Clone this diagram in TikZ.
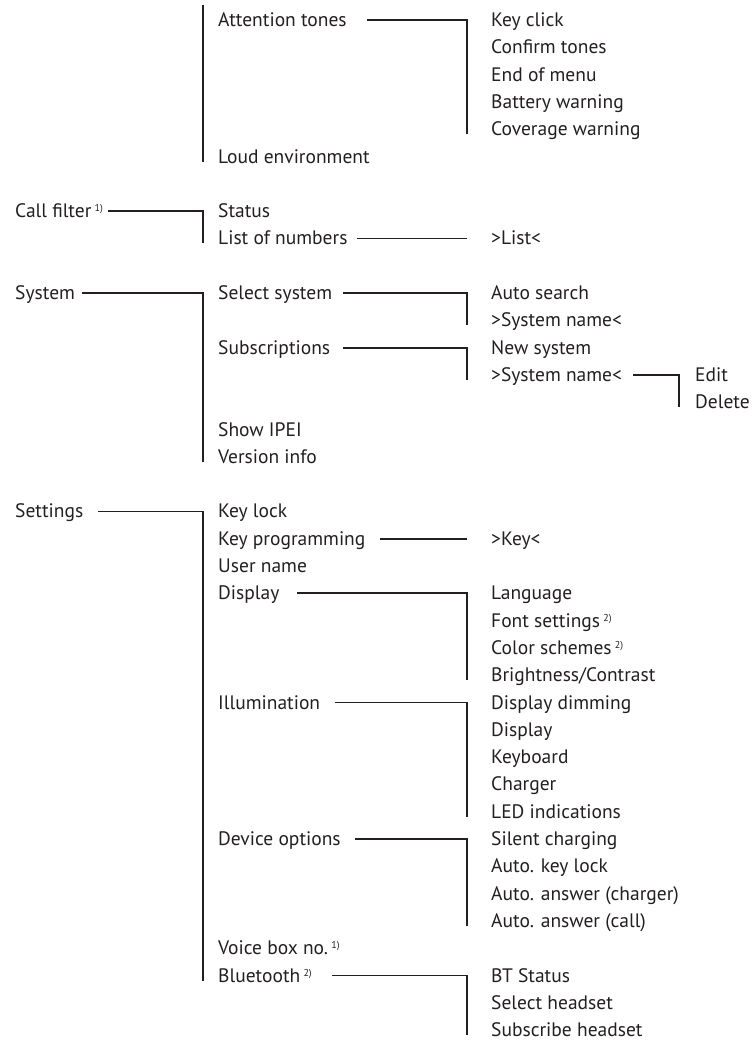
\documentclass[tikz,border=0pt]{standalone}
\usepackage{fontspec}
\setmainfont{PT Sans}
\definecolor{ink}{HTML}{231F20}
\newcommand{\noteref}[1]{\,\raisebox{6pt}{\fontsize{10}{10}\selectfont #1}}
\begin{document}
\begin{tikzpicture}[x=1pt,y=-1pt,
  lbl/.style={anchor=west,inner sep=0pt,text height=14pt,text depth=1pt,
    font=\fontsize{19.5}{22}\selectfont,text=ink},
  conn/.style={draw=ink,line width=1.8pt}]
\useasboundingbox (0,0) rectangle (754,1042);
\def\ry#1{20+27.3*#1}
% column 1
\node[lbl] (callf) at (15,{\ry{7}}) {Call filter\noteref{1)}};
\node[lbl] (system) at (15,{\ry{10}}) {System};
\node[lbl] (settings) at (15,{\ry{18}}) {Settings};
% column 2
\node[lbl] (attn) at (218,{\ry{0}}) {Attention tones};
\node[lbl] (loud) at (218,{\ry{5}}) {Loud environment};
\node[lbl] (status) at (218,{\ry{7}}) {Status};
\node[lbl] (listnum) at (218,{\ry{8}}) {List of numbers};
\node[lbl] (selsys) at (218,{\ry{10}}) {Select system};
\node[lbl] (subs) at (218,{\ry{12}}) {Subscriptions};
\node[lbl] (ipei) at (218,{\ry{15}}) {Show IPEI};
\node[lbl] (version) at (218,{\ry{16}}) {Version info};
\node[lbl] (keylock) at (218,{\ry{18}}) {Key lock};
\node[lbl] (keyprog) at (218,{\ry{19}}) {Key programming};
\node[lbl] (username) at (218,{\ry{20}}) {User name};
\node[lbl] (display) at (218,{\ry{21}}) {Display};
\node[lbl] (illum) at (218,{\ry{25}}) {Illumination};
\node[lbl] (devopt) at (218,{\ry{30}}) {Device options};
\node[lbl] (voicebox) at (218,{\ry{34}}) {Voice box no.\noteref{1)}};
\node[lbl] (bt) at (218,{\ry{35}}) {Bluetooth\noteref{2)}};
% column 3
\node[lbl] (keyclick) at (491,{\ry{0}}) {Key click};
\node[lbl] (confirm) at (491,{\ry{1}}) {Confirm tones};
\node[lbl] (endmenu) at (491,{\ry{2}}) {End of menu};
\node[lbl] (battery) at (491,{\ry{3}}) {Battery warning};
\node[lbl] (coverage) at (491,{\ry{4}}) {Coverage warning};
\node[lbl] (list) at (491,{\ry{8}}) {>List<};
\node[lbl] (autosearch) at (491,{\ry{10}}) {Auto search};
\node[lbl] (sysname1) at (491,{\ry{11}}) {>System name<};
\node[lbl] (newsys) at (491,{\ry{12}}) {New system};
\node[lbl] (sysname2) at (491,{\ry{13}}) {>System name<};
\node[lbl] (key) at (491,{\ry{19}}) {>Key<};
\node[lbl] (lang) at (491,{\ry{21}}) {Language};
\node[lbl] (fontset) at (491,{\ry{22}}) {Font settings\noteref{2)}};
\node[lbl] (color) at (491,{\ry{23}}) {Color schemes\noteref{2)}};
\node[lbl] (bright) at (491,{\ry{24}}) {Brightness/Contrast};
\node[lbl] (dimming) at (491,{\ry{25}}) {Display dimming};
\node[lbl] (disp2) at (491,{\ry{26}}) {Display};
\node[lbl] (keyboard) at (491,{\ry{27}}) {Keyboard};
\node[lbl] (charger) at (491,{\ry{28}}) {Charger};
\node[lbl] (led) at (491,{\ry{29}}) {LED indications};
\node[lbl] (silent) at (491,{\ry{30}}) {Silent charging};
\node[lbl] (autolock) at (491,{\ry{31}}) {Auto. key lock};
\node[lbl] (anscharger) at (491,{\ry{32}}) {Auto. answer (charger)};
\node[lbl] (anscall) at (491,{\ry{33}}) {Auto. answer (call)};
\node[lbl] (btstatus) at (491,{\ry{35}}) {BT Status};
\node[lbl] (selhead) at (491,{\ry{36}}) {Select headset};
\node[lbl] (subhead) at (491,{\ry{37}}) {Subscribe headset};
% column 4
\node[lbl] (edit) at (695,{\ry{13}}) {Edit};
\node[lbl] (delete) at (695,{\ry{14}}) {Delete};
% connectors
\coordinate (topc) at (203,5);
\draw[conn] (topc) -- ([xshift=-15pt,yshift=-5pt]loud.west);
\draw[conn] ([xshift=149pt]attn.west) -| ([xshift=-24pt,yshift=-5pt]coverage.west);
\draw[conn] ([xshift=93pt]callf.west) -| ([xshift=-15pt,yshift=-5pt]listnum.west);
\draw[conn] ([xshift=139pt]listnum.west) -- ([xshift=-24pt]list.west);
\draw[conn] ([xshift=67pt]system.west) -| ([xshift=-15pt,yshift=-5pt]version.west);
\draw[conn] ([xshift=125pt]selsys.west) -| ([xshift=-24pt,yshift=-5pt]sysname1.west);
\draw[conn] ([xshift=125pt]subs.west) -| ([xshift=-24pt,yshift=-5pt]sysname2.west);
\draw[conn] ([xshift=142pt]sysname2.west) -| ([xshift=-16pt,yshift=-5pt]delete.west);
\draw[conn] ([xshift=83pt]settings.west) -| ([xshift=-15pt,yshift=-5pt]bt.west);
\draw[conn] ([xshift=162pt]keyprog.west) -- ([xshift=-24pt]key.west);
\draw[conn] ([xshift=79pt]display.west) -| ([xshift=-24pt,yshift=-5pt]bright.west);
\draw[conn] ([xshift=117pt]illum.west) -| ([xshift=-24pt,yshift=-5pt]led.west);
\draw[conn] ([xshift=137pt]devopt.west) -| ([xshift=-24pt,yshift=-5pt]anscall.west);
\draw[conn] ([xshift=114pt]bt.west) -| ([xshift=-24pt,yshift=-5pt]subhead.west);
\end{tikzpicture}
\end{document}
